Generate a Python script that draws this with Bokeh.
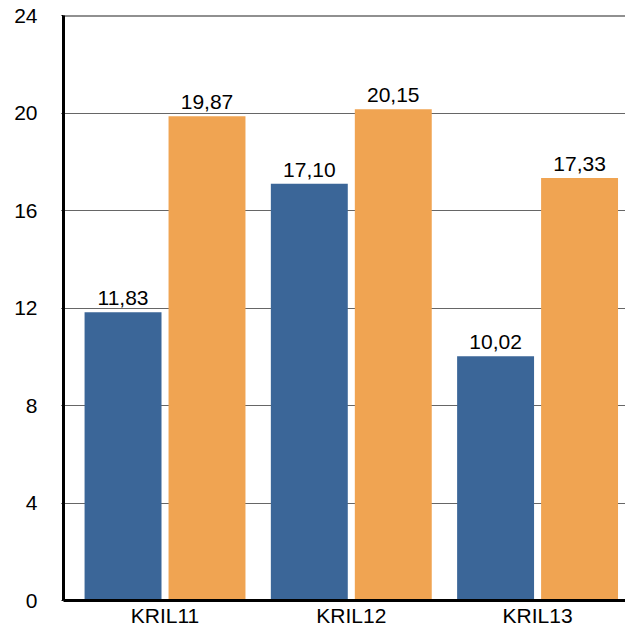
from bokeh.plotting import figure
from bokeh.models import ColumnDataSource, Range1d, FixedTicker, LabelSet
from bokeh.core.properties import value
from bokeh.embed import file_html
from bokeh.resources import INLINE

categories = ["KRIL11", "KRIL12", "KRIL13"]
series_a = [11.83, 17.10, 10.02]
series_b = [19.87, 20.15, 17.33]
y_ticks = [0, 4, 8, 12, 16, 20, 24]

BLUE = "#3B6698"
ORANGE = "#F0A452"
FONT = "Liberation Sans"
FS = "21px"

xs = list(range(len(categories)))
off = 0.2254
bw = 0.413

def fmt(v):
    return f"{v:.2f}".replace(".", ",")

src_a = ColumnDataSource(dict(x=[i - off for i in xs], top=series_a, lab=[fmt(v) for v in series_a]))
src_b = ColumnDataSource(dict(x=[i + off for i in xs], top=series_b, lab=[fmt(v) for v in series_b]))

p = figure(width=625, height=634, frame_width=562, frame_height=585,
           output_backend="svg", toolbar_location=None,
           x_range=Range1d(-0.545, 2.472), y_range=Range1d(0, 24),
           min_border_left=63, min_border_right=0, min_border_top=15, min_border_bottom=0)
p.outline_line_color = None
p.background_fill_color = "white"
p.border_fill_color = "white"

p.vbar(x="x", top="top", width=bw, source=src_a, color=BLUE, line_color=None)
p.vbar(x="x", top="top", width=bw, source=src_b, color=ORANGE, line_color=None)

for s in (src_a, src_b):
    p.add_layout(LabelSet(x="x", y="top", text="lab", source=s, text_align="center",
                          text_baseline="bottom", y_offset=7, text_font_size=value(FS),
                          text_font=value(FONT), text_color="black"))

# top line at 24
p.line(x=[-0.545, 2.472], y=[24, 24], line_color="#222222", line_width=2)

p.xgrid.grid_line_color = None
p.ygrid.ticker = FixedTicker(ticks=y_ticks)
p.ygrid.grid_line_color = "#666666"
p.ygrid.grid_line_width = 1.2
p.ygrid.level = "underlay"

p.yaxis.ticker = FixedTicker(ticks=y_ticks)
p.yaxis.axis_line_color = "black"
p.yaxis.axis_line_width = 3
p.yaxis.major_tick_out = 2
p.yaxis.major_tick_in = 0
p.yaxis.minor_tick_line_color = None
p.yaxis.major_label_standoff = 24
p.yaxis.major_label_text_font = FONT
p.yaxis.major_label_text_font_size = FS
p.yaxis.major_label_text_color = "black"

p.xaxis.ticker = FixedTicker(ticks=xs)
p.xaxis.major_label_overrides = {i: c for i, c in zip(xs, categories)}
p.xaxis.axis_line_color = "black"
p.xaxis.axis_line_width = 3
p.xaxis.major_tick_line_color = None
p.xaxis.major_tick_out = 0
p.xaxis.major_tick_in = 0
p.xaxis.minor_tick_line_color = None
p.xaxis.major_label_standoff = 3
p.xaxis.major_label_text_font = FONT
p.xaxis.major_label_text_font_size = FS
p.xaxis.major_label_text_color = "black"

open("out.html", "w").write(file_html(p, INLINE))
